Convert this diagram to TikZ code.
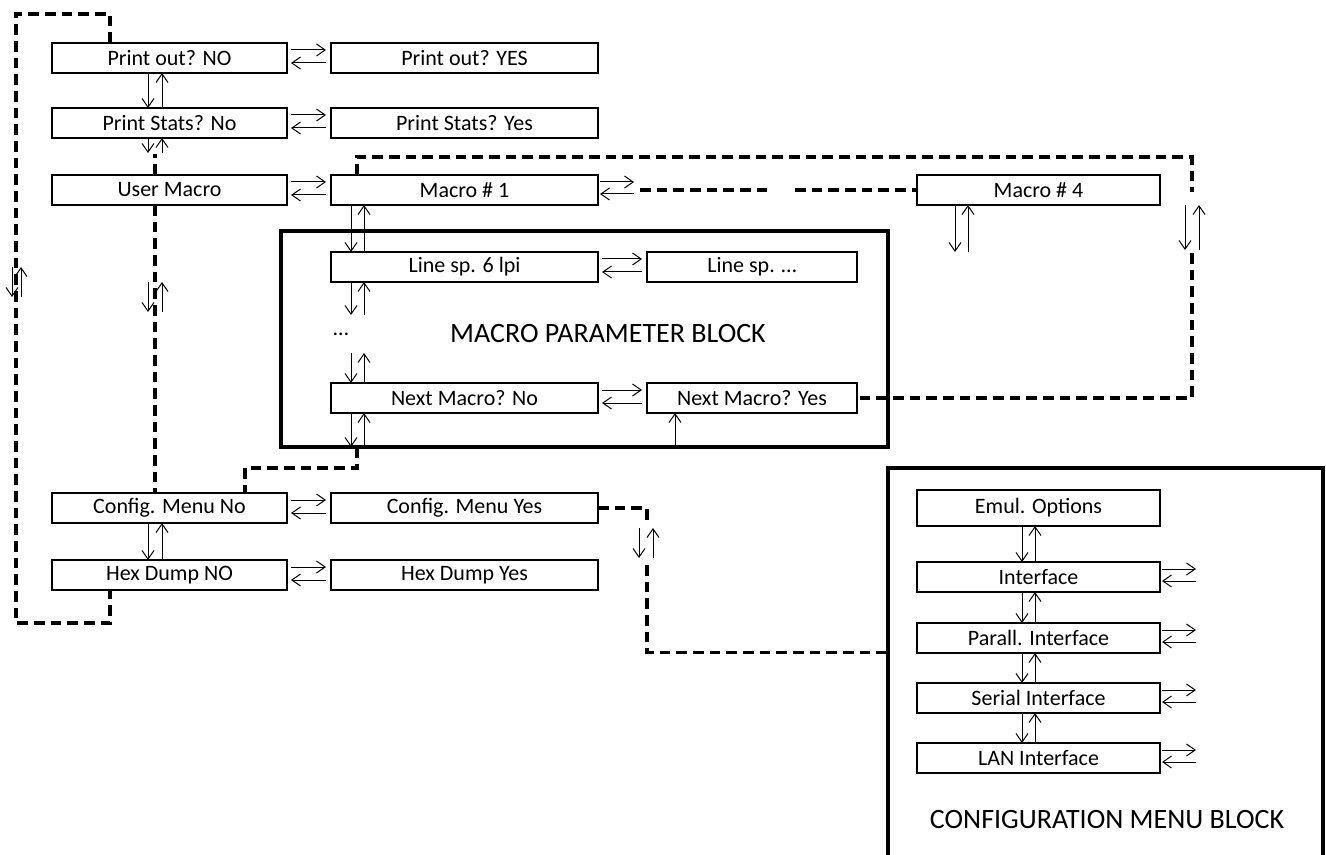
\documentclass[tikz,border=0pt]{standalone}
\usepackage{fontspec}
\setmainfont{Carlito}
\usetikzlibrary{arrows.meta,calc}
\tikzset{
  box/.style={draw, line width=1.3pt, fill=white, outer sep=0pt, minimum height=22.5pt, inner sep=0pt, font=\fontsize{16.5}{19}\selectfont},
  wL/.style={minimum width=176.25pt},
  wM/.style={minimum width=200.25pt},
  wS/.style={minimum width=157.5pt},
  wC/.style={minimum width=182.25pt},
  blk/.style={draw, line width=2.6pt, outer sep=0pt},
  blabel/.style={font=\fontsize{21}{25}\selectfont},
  arr/.style={-{Straight Barb[length=6.5pt,width=9pt]}, line width=0.75pt},
  dsh/.style={line width=2.6pt, dash pattern=on 8pt off 4.5pt},
}
\newcommand\hpair[2]{%
  \draw[arr] ($(#1.east)+(4,-8)$) -- ($(#2.west)+(-5,-8)$);
  \draw[arr] ($(#2.west)+(-5,5)$) -- ($(#1.east)+(4,5)$);}
\newcommand\hfree[1]{%
  \draw[arr] ($(#1.east)+(2,-8)$) -- ($(#1.east)+(36,-8)$);
  \draw[arr] ($(#1.east)+(36,4)$) -- ($(#1.east)+(2,4)$);}
\newcommand\vpair[4]{%
  \draw[arr] ($(#1.south)+(#3,0)$) -- ($(#2.north)+(#3,0)$);
  \draw[arr] ($(#2.north)+(#4,0)$) -- ($(#1.south)+(#4,0)$);}
\begin{document}
\begin{tikzpicture}[x=0.75pt,y=-0.75pt]
\useasboundingbox (0,0) rectangle (1326,855);
% blocks
\node[blk, minimum width=455.25pt, minimum height=162pt] (mb) at (584.5,339) {};
\node[blabel] (mlab) at (608,334) {MACRO PARAMETER BLOCK};
\node[minimum width=326.25pt, minimum height=290.25pt, inner sep=0pt, outer sep=0pt] (cb) at (1105.5,661.5) {};
\draw[line width=2.6pt] (cb.south west) -- (cb.north west) -- (cb.north east) -- (cb.south east);
\node[blabel] (clab) at (1107,820) {CONFIGURATION MENU BLOCK};
% main boxes
\node[box,wL] (po) at (169.5,58) {Print out? NO};
\node[box,wM] (py) at (464.5,58) {Print out? YES};
\node[box,wL] (ps) at (169.5,123) {Print Stats? No};
\node[box,wM] (psy) at (464.5,123) {Print Stats? Yes};
\node[box,wL] (um) at (169.5,190) {User Macro};
\node[box,wM] (m1) at (464.5,190) {Macro \# 1};
\node[box,wC] (m4) at (1038.5,190) {Macro \# 4};
\node[box,wM] (l6) at (464.5,267) {Line sp. 6 lpi};
\node[box,wS] (ld) at (752,267) {Line sp. …};
\node[font=\fontsize{16.5}{19}\selectfont] (dots) at (341,334) {…};
\node[box,wM] (nn) at (464.5,398) {Next Macro? No};
\node[box,wS] (ny) at (752,398) {Next Macro? Yes};
\node[box,wL] (cn) at (169.5,508) {Config. Menu No};
\node[box,wM] (cy) at (464.5,508) {Config. Menu Yes};
\node[box,wL] (hn) at (169.5,575) {Hex Dump NO};
\node[box,wM] (hy) at (464.5,575) {Hex Dump Yes};
% config block boxes
\node[box,wC,minimum height=27pt] (eo) at (1038.5,508) {Emul. Options};
\node[box,wC] (if) at (1038.5,577) {Interface};
\node[box,wC] (pi) at (1038.5,638) {Parall. Interface};
\node[box,wC] (si) at (1038.5,698) {Serial Interface};
\node[box,wC] (li) at (1038.5,758) {LAN Interface};
% dashed paths
\draw[dsh] ($(po.north)+(-59.5,0)$) -- ++(0,-29) -- ++(-94,0) |- ($(hn.south)+(-59.5,33)$) -- ($(hn.south)+(-59.5,0)$);
\draw[dsh] ($(um.north)+(-14.5,0)$) -- ++(0,-21);
\draw[dsh] ($(um.south)+(-14.5,0)$) -- ($(cn.north)+(-14.5,0)$);
\draw[dsh] ($(mb.south west)+(76,0)$) -- ++(0,21) -| ($(cn.north)+(75.5,0)$);
\draw[dsh] ($(m1.north)+(-107.5,0)$) -- ++(0,-18) -| ($(ny.east)+(335,-206)$);
\draw[dsh] ($(ny.east)+(335,-145)$) -- ($(ny.east)+(335,0)$) -- (ny.east);
\draw[dsh] ($(m1.east)+(42,0)$) -- ++(130,0);
\draw[dsh] ($(m4.west)+(-122,0)$) -- (m4.west);
\draw[dsh] (cy.east) -- ++(49,0) -- ++(0,12);
\draw[dsh] ($(cy.east)+(49,57)$) |- ($(cb.west)+(0,-9)$);
% horizontal pairs
\hpair{po}{py}
\hpair{ps}{psy}
\hpair{um}{m1}
\hfree{m1}
\hpair{l6}{ld}
\hpair{nn}{ny}
\hpair{cn}{cy}
\hpair{hn}{hy}
\hfree{if}
\hfree{pi}
\hfree{si}
\hfree{li}
% vertical pairs
\vpair{po}{ps}{-21.5}{-7.5}
\draw[arr] ($(ps.south)+(-21.5,0)$) -- ++(0,15);
\draw[arr] ($(ps.south)+(-7.5,15)$) -- ($(ps.south)+(-7.5,0)$);
\draw[arr] ($(um.south)+(-21.5,77)$) -- ++(0,30);
\draw[arr] ($(um.south)+(-7.5,107)$) -- ++(0,-30);
\draw[arr] ($(po.north)+(-157.5,224)$) -- ++(0,30);
\draw[arr] ($(po.north)+(-148.5,254)$) -- ++(0,-30);
\vpair{m1}{l6}{-113.5}{-100.5}
\draw[arr] ($(l6.south)+(-113.5,0)$) -- ++(0,33);
\draw[arr] ($(l6.south)+(-100.5,33)$) -- ($(l6.south)+(-100.5,0)$);
\draw[arr] ($(nn.north)+(-113.5,-30)$) -- ($(nn.north)+(-113.5,0)$);
\draw[arr] ($(nn.north)+(-100.5,0)$) -- ++(0,-30);
\draw[arr] ($(nn.south)+(-113.5,0)$) -- ($(mb.south west)+(70,0)$);
\draw[arr] ($(mb.south west)+(83,0)$) -- ($(nn.south)+(-100.5,0)$);
\draw[arr] ($(mb.south west)+(394,0)$) -- ($(ny.south)+(-77,0)$);
\draw[arr] ($(m4.south)+(-83.5,0)$) -- ++(0,47);
\draw[arr] ($(m4.south)+(-70.5,47)$) -- ($(m4.south)+(-70.5,0)$);
\draw[arr] ($(ny.east)+(328,-193)$) -- ++(0,45);
\draw[arr] ($(ny.east)+(342,-148)$) -- ++(0,-45);
\draw[arr] ($(cy.east)+(41,20)$) -- ++(0,30);
\draw[arr] ($(cy.east)+(55,50)$) -- ++(0,-30);
\vpair{cn}{hn}{-21.5}{-7.5}
\vpair{eo}{if}{-16.5}{-3.5}
\vpair{if}{pi}{-16.5}{-3.5}
\vpair{pi}{si}{-16.5}{-3.5}
\vpair{si}{li}{-16.5}{-3.5}
\end{tikzpicture}
\end{document}
